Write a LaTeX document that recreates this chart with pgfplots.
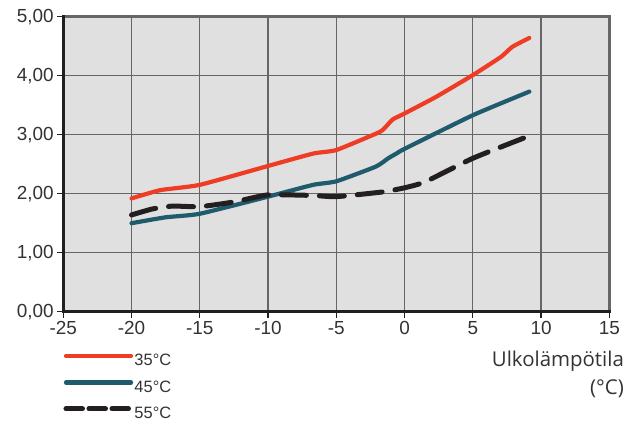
\documentclass[border=0pt]{standalone}
\usepackage{fontspec}
\setmainfont{Liberation Sans}
\newfontfamily\osans{Open Sans}
\usepackage{pgfplots}
\pgfplotsset{compat=1.18}
\definecolor{redc}{HTML}{EE3D24}
\definecolor{bluec}{HTML}{1F5A6D}
\definecolor{blackc}{HTML}{231F20}
\definecolor{bgc}{HTML}{E0E0E0}
\definecolor{gridc}{HTML}{666666}
\definecolor{textc}{HTML}{333333}
\begin{document}
\begin{tikzpicture}
\useasboundingbox (-63.3bp,-109.3bp) rectangle (574.7bp,311.7bp);
\begin{axis}[
  scale only axis, width=546bp, height=295bp,
  at={(0,0)}, anchor=south west,
  xmin=-25, xmax=15, ymin=0, ymax=5,
  xtick={-25,-20,...,15}, ytick={0,1,...,5},
  /pgf/number format/assume math mode=true,
  y tick label style={/pgf/number format/.cd, fixed, fixed zerofill, precision=2, use comma},
  tick label style={font=\fontsize{19}{21}\selectfont, text=textc},
  xtick pos=bottom, ytick pos=left,
  tick align=outside, major tick length=6bp,
  tick style={line width=1.2bp, color=blackc},
  axis background/.style={fill=bgc},
  grid=major, grid style={line width=1.3bp, color=gridc},
  axis line style={draw=none},
  xlabel={Ulkolämpötila\\(°C)},
  xlabel style={at={(axis description cs:1.027,0)}, anchor=north east, align=right, inner sep=0pt, yshift=-39bp, font=\osans\fontsize{20.5}{28}\selectfont, text=textc},
  legend style={at={(axis description cs:0,0)}, anchor=north west, yshift=-41bp, draw=none, fill=none, inner sep=0pt, font=\fontsize{16.5}{18}\selectfont, text=textc, row sep=12.5bp, nodes={inner sep=1bp, text height=12bp, text depth=0bp}},
  legend cell align=left,
  legend image code/.code={\path (0bp,4bp) -- (65bp,4bp); \draw[#1] (2.5bp,4bp) -- (62.5bp,4bp);},
  after end axis/.code={
    \draw[line width=3bp, gridc] (rel axis cs:0,1) -- (rel axis cs:1,1) -- (rel axis cs:1,0);
    \draw[line width=3bp, blackc, line cap=rect] (rel axis cs:0,1) -- (rel axis cs:0,0) -- (rel axis cs:1,0);
  },
]
\addplot[redc, line width=4.2bp, line join=round, line cap=round, smooth, tension=0.3, forget plot] coordinates {
(-20,1.92) (-17.9,2.06) (-15,2.15) (-10,2.47) (-6.7,2.68) (-5,2.74) (-2.07,3.02) (-1.6,3.08) (-1.35,3.14) (-0.86,3.26) (0,3.36) (2.3,3.64) (5,4.01) (7.07,4.32) (7.9,4.49) (9.14,4.64)};
\addplot[bluec, line width=4.2bp, line join=round, line cap=round, smooth, tension=0.3, forget plot] coordinates {
(-20,1.50) (-17.5,1.60) (-15,1.66) (-10,1.95) (-6.7,2.15) (-5,2.21) (-2.1,2.46) (-1.2,2.60) (-0.6,2.68) (0,2.76) (5,3.33) (9.14,3.73)};
\addplot[blackc, line width=5bp, line join=round, line cap=round, dash pattern=on 25bp off 13bp, smooth, tension=0.3, forget plot] coordinates {
(-20,1.64) (-18.5,1.74) (-17,1.79) (-15,1.78) (-12.5,1.86) (-10,1.98) (-6.7,1.97) (-5,1.95) (-1.6,2.03) (0,2.10) (1.5,2.20) (5,2.60) (9.14,2.98)};
\addlegendimage{redc, line width=4.2bp, line cap=round}
\addlegendentry{35°C}
\addlegendimage{bluec, line width=4.2bp, line cap=round}
\addlegendentry{45°C}
\addlegendimage{blackc, line width=5bp, line cap=round, dash pattern=on 14bp off 9bp}
\addlegendentry{55°C}
\end{axis}
\end{tikzpicture}
\end{document}
